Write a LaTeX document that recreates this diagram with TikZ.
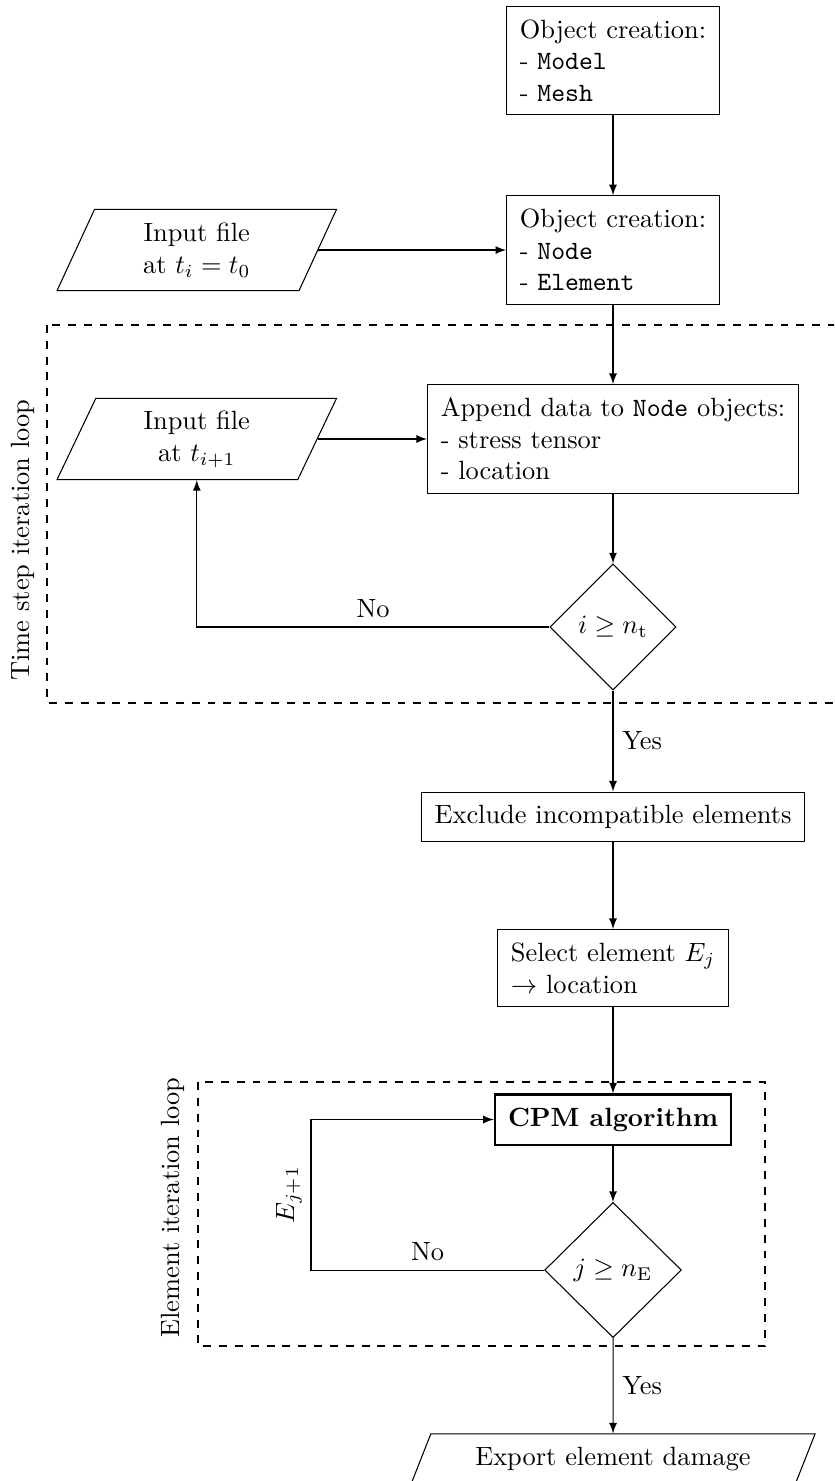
\documentclass[tikz,border=0pt]{standalone}
\usetikzlibrary{shapes.geometric}
\begin{document}
\begin{tikzpicture}[>=latex,
        block/.style={draw, rectangle, align=left, inner sep=5pt},
        io/.style={draw, trapezium, trapezium left angle=60, trapezium right angle=120,
            trapezium stretches body=true, align=center, inner sep=2pt,
            minimum width=3.72cm, minimum height=1.08cm},
        decision/.style={draw, diamond, inner sep=1pt},
        loopbox/.style={draw, thick, dashed}]
        \path[use as bounding box, clip] (0,0) rectangle (11.105,-19.719);

        % loop frames
        \draw[loopbox] (0.626,-4.327) rectangle (11.6,-9.360);
        \draw[loopbox] (2.636,-14.407) rectangle (10.186,-17.922);
        \node[rotate=90] (steplabel) at (0.306,-7.19) {Time step iteration loop};
        \node[rotate=90] (elemlabel) at (2.303,-16.077) {Element iteration loop};

        % blocks
        \node[block] (model) at (8.162,-0.806) {Object creation:\\- \texttt{Model}\\- \texttt{Mesh}};
        \node[block] (creation) at (8.162,-3.329) {Object creation:\\- \texttt{Node}\\- \texttt{Element}};
        \node[io] (input0) at (2.62,-3.329) {Input file\\at $t_i = t_0$};
        \node[block] (append) at (8.162,-5.845) {Append data to \texttt{Node} objects:\\- stress tensor\\- location};
        \node[io] (inputnext) at (2.62,-5.845) {Input file\\at $t_{i+1}$};
        \node[decision, minimum width=1.68cm, minimum height=1.68cm] (checkt) at (8.162,-8.348) {$i \geq n_\mathrm{t}$};
        \node[block] (exclude) at (8.162,-10.878) {Exclude incompatible elements};
        \node[block] (select) at (8.162,-12.889) {Select element $E_j$\\$\rightarrow$ location};
        \node[block, thick] (cpm) at (8.162,-14.906) {\textbf{CPM algorithm}};
        \node[decision, minimum width=1.82cm, minimum height=1.80cm] (checkE) at (8.162,-16.910) {$j \geq n_\mathrm{E}$};
        \node[io, minimum width=5.38cm, minimum height=0.67cm] (export) at (8.162,-19.427) {Export element damage};
        \coordinate (backE) at (4.141,-16.910);

        % time step loop
        \draw[->] (model) -- (creation);
        \draw[->] (input0.east) -- (input0.east -| creation.west);
        \draw[->] (creation) -- (append);
        \draw[->] (inputnext.east) -- (inputnext.east -| append.west);
        \draw[->] (append) -- (checkt);
        \draw[->] (checkt.west) -| node[pos=0.25, above] {No} (inputnext.south);
        \draw[->] (checkt) -- node[right] {Yes} (exclude);

        % element loop
        \draw[->] (exclude) -- (select);
        \draw[->] (select) -- (cpm);
        \draw[->] (cpm) -- (checkE);
        \draw[->] (checkE.west) -- node[above] {No} (backE) |- node[pos=0.25, above, sloped] {$E_{j+1}$} (cpm.west);
        \draw[->] (checkE) -- node[right] {Yes} (export);
    \end{tikzpicture}
\end{document}
